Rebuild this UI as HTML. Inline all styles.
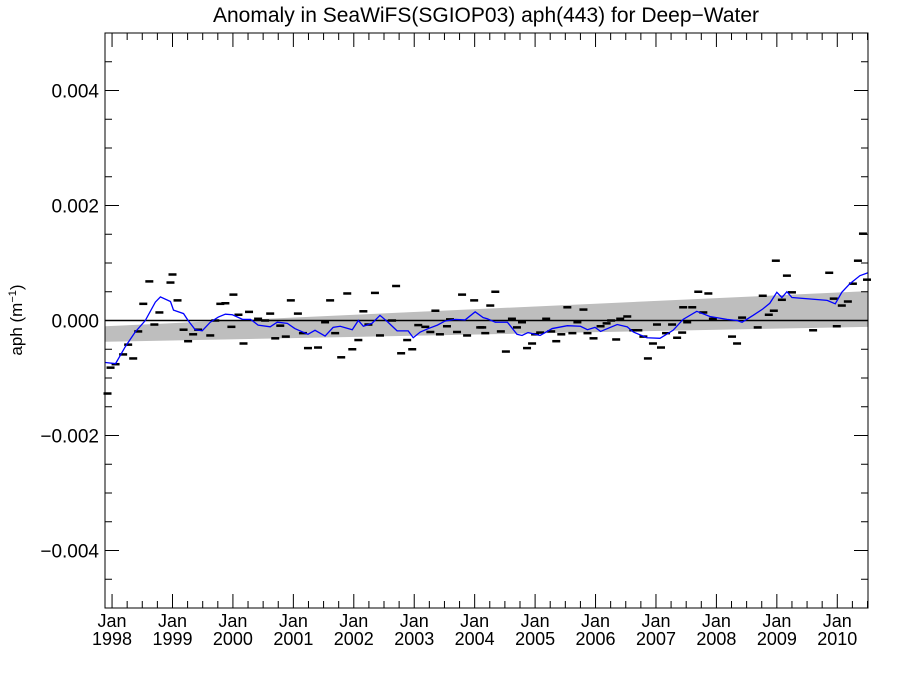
<!DOCTYPE html>
<html><head><meta charset="utf-8"><style>
body{margin:0;background:#fff}
svg{display:block;font-family:"Liberation Sans",sans-serif}
</style></head><body>
<svg id="chart" width="900" height="675" viewBox="0 0 900 675">
<text x="486" y="22" font-size="21" text-anchor="middle">Anomaly in SeaWiFS(SGIOP03) aph(443) for Deep−Water</text>
<text transform="translate(22,320) rotate(-90)" font-size="17" text-anchor="middle">aph (m<tspan dy="-6" font-size="11">−1</tspan><tspan dy="6">)</tspan></text>
<g id="plot"></g>
</svg>
<script>
// months since Jan 1998 and anomaly values (×1e-3)
const obsMonths=[-0.9,-0.3,0.7,2.2,3.2,4.2,5.2,6.2,7.4,8.4,9.4,11.6,12.0,13.0,14.2,15.1,16.1,17.1,19.5,20.5,21.5,22.5,23.7,24.1,25.1,26.1,27.2,29.0,30.4,31.4,32.4,33.4,34.5,35.5,36.9,37.9,38.9,40.9,42.3,43.3,44.3,45.5,46.7,47.7,48.9,49.9,50.9,52.2,53.2,55.6,56.4,57.4,58.6,59.6,60.8,62.2,63.2,64.2,65.1,66.5,67.1,68.5,69.5,70.5,71.9,73.1,73.5,74.1,75.1,76.1,77.2,78.2,79.4,80.4,81.4,82.4,83.4,84.0,85.0,86.2,87.2,88.2,89.2,90.4,91.4,92.4,93.6,94.4,95.6,97.0,98.2,99.1,100.1,100.9,102.3,103.5,104.5,105.5,106.4,107.4,108.2,109.0,110.0,111.2,112.2,113.2,113.4,114.2,115.2,116.4,117.4,118.4,119.3,123.1,124.1,125.1,128.2,129.2,130.4,131.4,131.8,133.0,134.0,135.0,139.2,142.4,143.3,143.9,144.9,146.1,147.1,148.1,149.1,149.9];
const obsValues=[-1.27,-0.82,-0.76,-0.59,-0.42,-0.66,-0.19,0.29,0.68,-0.07,0.14,0.66,0.80,0.35,-0.16,-0.36,-0.24,-0.16,-0.26,0,0.29,0.30,-0.11,0.45,0.10,-0.40,0.15,0.03,0,0.12,-0.31,-0.09,-0.28,0.35,0.12,-0.22,-0.48,-0.47,-0.03,0.35,-0.22,-0.64,0.47,-0.50,-0.34,0.16,-0.07,0.48,-0.26,0,0.60,-0.57,-0.34,-0.50,-0.08,-0.11,-0.20,0.17,-0.24,-0.10,0.02,-0.20,0.45,-0.26,0.35,-0.12,-0.12,-0.22,0.26,0.50,-0.19,-0.54,0.03,-0.12,-0.03,-0.48,-0.40,-0.24,-0.21,0.03,-0.19,-0.36,-0.24,0.23,-0.22,-0.03,0.19,-0.22,-0.31,-0.10,-0.05,0,-0.33,0.03,0.07,-0.17,-0.17,-0.28,-0.66,-0.40,-0.07,-0.47,-0.22,-0.07,-0.30,-0.21,0.23,-0.03,0.23,0.50,0.14,0.47,0.03,-0.28,-0.40,0.05,-0.12,0.43,0.10,0.17,1.04,0.36,0.78,0.49,-0.17,0.83,0.38,-0.10,0.26,0.33,0.64,1.04,1.51,0.71];
const meanMonths=[-1.3,0.7,2.6,4.6,6.6,8.6,9.6,11.6,12.2,14.2,15.1,16.5,17.9,19.5,21.1,22.5,23.9,25.9,27.5,29.0,31.4,32.8,34.8,36.3,38.9,40.3,42.3,43.9,45.3,47.7,48.9,49.9,51.6,53.2,54.8,56.6,58.8,59.8,61.2,62.8,64.6,66.1,68.1,70.1,72.1,73.7,74.5,76.1,78.5,80.4,81.4,82.6,85.0,87.4,90.4,93.0,94.4,95.9,97.0,100.3,102.3,103.5,106.2,108.8,111.4,113.4,116.1,118.7,122.1,124.1,125.1,127.3,129.2,130.6,132.0,133.0,134.0,135.0,142.0,143.6,144.9,146.5,148.5,150.1];
const meanValues=[-0.73,-0.75,-0.46,-0.2,0,0.32,0.41,0.33,0.18,0.12,0,-0.16,-0.18,-0.03,0.06,0.11,0.10,0.02,0.02,-0.08,-0.11,-0.03,-0.05,-0.14,-0.24,-0.17,-0.27,-0.12,-0.10,-0.16,0,-0.10,-0.05,0.09,-0.03,-0.18,-0.18,-0.30,-0.20,-0.14,-0.08,-0.01,0.02,0.01,0.15,0.05,0.03,-0.03,-0.03,-0.24,-0.26,-0.21,-0.26,-0.14,-0.09,-0.10,-0.16,-0.12,-0.19,-0.07,-0.11,-0.20,-0.30,-0.31,-0.17,0.02,0.16,0.07,0.02,0,-0.03,0.09,0.20,0.30,0.49,0.40,0.50,0.40,0.35,0.29,0.49,0.64,0.78,0.83];
const bandMonths=[-1.4,150.1];
const bandUpper=[-0.10,0.51];
const bandLower=[-0.37,-0.11];
const yTicks=[-0.004,-0.002,0.000,0.002,0.004];
const yTickLabels=["−0.004","−0.002","0.000","0.002","0.004"];
const xYears=[1998,1999,2000,2001,2002,2003,2004,2005,2006,2007,2008,2009,2010];

const L=105,R=868,T=33,B=608;
const xMin=-1.4,xMax=150.1,yMin=-5,yMax=5;
const X=m=>L+(m-xMin)/(xMax-xMin)*(R-L);
const Y=v=>B-(v-yMin)/(yMax-yMin)*(B-T);
const NS="http://www.w3.org/2000/svg";
const g=document.getElementById('plot');
function mk(t,a,p){const e=document.createElementNS(NS,t);for(const k in a)e.setAttribute(k,a[k]);(p||g).appendChild(e);return e;}

const band=mk('polygon',{points:[X(bandMonths[0])+','+Y(bandUpper[0]),X(bandMonths[1])+','+Y(bandUpper[1]),X(bandMonths[1])+','+Y(bandLower[1]),X(bandMonths[0])+','+Y(bandLower[0])].join(' '),fill:'#bebebe'});


const z=mk('line',{x1:L,x2:R,y1:Y(0),y2:Y(0),stroke:'#000','stroke-width':1.5});


obsMonths.forEach((m,i)=>{
  const d=mk('line',{x1:X(m)-4,x2:X(m)+4,y1:Y(obsValues[i]),y2:Y(obsValues[i]),stroke:'#000','stroke-width':2.5});
  
  
});
const ml=mk('polyline',{points:meanMonths.map((m,i)=>X(m)+','+Y(meanValues[i])).join(' '),fill:'none',stroke:'#0000ff','stroke-width':1.3});


const fr=mk('rect',{x:L,y:T,width:R-L,height:B-T,fill:'none',stroke:'#000','stroke-width':1});


for(let v=-5;v<=5.001;v+=0.5){
  const major=Math.abs(Math.round(v*1000)%2000)===0 && Math.abs(v-Math.round(v))<1e-6;
  const len=major?14:7;
  mk('line',{x1:L,x2:L+len,y1:Y(v),y2:Y(v),stroke:'#000'});
  mk('line',{x1:R,x2:R-len,y1:Y(v),y2:Y(v),stroke:'#000'});
}
yTicks.forEach((v,i)=>{
  const t=mk('text',{x:L-6,y:Y(v*1000)+7,'font-size':19,'text-anchor':'end'});
  t.textContent=yTickLabels[i];
  
  
});
for(let m=0;m<=150;m+=3){
  const major=m%12===0,len=major?14:7;
  mk('line',{x1:X(m),x2:X(m),y1:B,y2:B-len,stroke:'#000'});
  mk('line',{x1:X(m),x2:X(m),y1:T,y2:T+len,stroke:'#000'});
}
xYears.forEach(yr=>{
  const m=(yr-1998)*12;
  const t1=mk('text',{x:X(m),y:627,'font-size':18,'text-anchor':'middle'});
  t1.textContent='Jan';
  
  
  const t2=mk('text',{x:X(m),y:645,'font-size':18,'text-anchor':'middle'});
  t2.textContent=String(yr);
  
  
});
</script>
</body></html>
